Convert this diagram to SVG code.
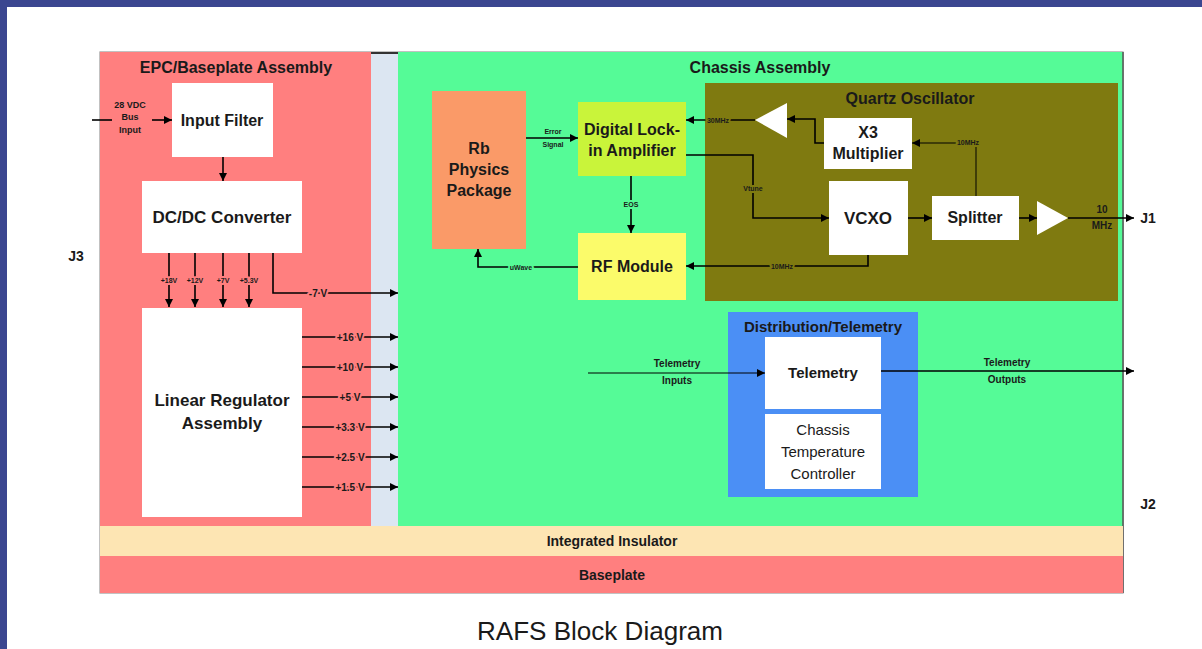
<svg xmlns="http://www.w3.org/2000/svg" width="1202" height="649" viewBox="0 0 1202 649">
<defs>
<marker id="ah" viewBox="0 0 10 10" refX="10" refY="5" markerWidth="8" markerHeight="8" markerUnits="userSpaceOnUse" orient="auto">
<path d="M0,0 L10,5 L0,10 Z" fill="#000"/>
</marker>
</defs>
<style>
text{font-family:"Liberation Sans",Arial,sans-serif;fill:#1a1a1a;text-anchor:middle}
.t{font-weight:bold;font-size:16px}
.n{font-weight:bold;font-size:16px}
.s{font-weight:bold;font-size:14px}
.lb{font-size:7px;font-weight:bold;paint-order:stroke;stroke-width:4px;stroke-linejoin:round}
.v{font-size:10px;font-weight:bold;paint-order:stroke;stroke-width:4px;stroke-linejoin:round}
.onred{stroke:#ff7f7f}
.ongreen{stroke:#55fb97}
.onolive{stroke:#7f7a10}
.box{fill:#fff}
.c{fill:none;stroke:#000;stroke-width:1.6}
.ca{fill:none;stroke:#000;stroke-width:1.6;marker-end:url(#ah)}
.thin{stroke-width:1}
</style>
<rect width="1202" height="649" fill="#fff"/>
<rect x="0" y="0" width="1202" height="7" fill="#3b4690"/>
<rect x="0" y="0" width="7" height="649" fill="#3b4690"/>

<g id="background">
<rect x="100" y="52" width="1023" height="541" fill="none" stroke="#999" stroke-width="1.2"/>
<rect x="100" y="52" width="271" height="474" fill="#ff7f7f"/>
<rect x="371" y="52" width="27" height="474" fill="#dce6f2"/>
<line x1="371" y1="53" x2="398" y2="53" stroke="#333" stroke-width="2"/>
<rect x="398" y="52" width="725" height="474" fill="#55fb97"/>
<line x1="1123" y1="52" x2="1123" y2="593" stroke="#555" stroke-width="1.5"/>
<rect x="100" y="526" width="1023" height="30" fill="#fde5b3"/>
<rect x="100" y="556" width="1023" height="37" fill="#ff7f7f"/>
<text class="t" x="236" y="73">EPC/Baseplate Assembly</text>
<text class="t" x="760" y="73">Chassis Assembly</text>
<text class="s" x="612" y="546">Integrated Insulator</text>
<text class="s" x="612" y="580">Baseplate</text>
<text class="s" x="76" y="261">J3</text>
<text class="s" x="1148" y="223">J1</text>
<text class="s" x="1148" y="509">J2</text>
<text x="600" y="640" style="font-size:26px" textLength="246" lengthAdjust="spacingAndGlyphs">RAFS Block Diagram</text>
</g>

<g id="input-filter">
<rect class="box" x="172" y="83" width="101" height="74"/>
<text class="n" x="222" y="126">Input Filter</text>
</g>
<g id="dcdc-converter">
<rect class="box" x="142" y="181" width="160" height="72"/>
<text class="t" x="222" y="223" style="font-size:17px">DC/DC Converter</text>
</g>
<g id="linear-regulator">
<rect class="box" x="142" y="308" width="160" height="209"/>
<text class="t" x="222" y="406" style="font-size:17px">Linear Regulator</text>
<text class="t" x="222" y="429" style="font-size:17px">Assembly</text>
</g>
<g id="rb-physics">
<rect x="432" y="91" width="94" height="158" fill="#fa9a68"/>
<text class="t" x="479" y="154">Rb</text>
<text class="t" x="479" y="175">Physics</text>
<text class="t" x="479" y="196">Package</text>
</g>
<g id="lock-in-amp">
<rect x="578" y="102" width="108" height="74" fill="#c9f43a"/>
<text class="t" x="632" y="135">Digital Lock-</text>
<text class="t" x="632" y="156">in Amplifier</text>
</g>
<g id="rf-module">
<rect x="578" y="233" width="108" height="67" fill="#fbfb6a"/>
<text class="t" x="632" y="272">RF Module</text>
</g>
<g id="quartz-oscillator">
<rect x="705" y="83" width="413" height="218" fill="#7f7a10"/>
<text class="t" x="910" y="104">Quartz Oscillator</text>
<polygon points="755,120 787,103 787,138" fill="#fff"/>
<polygon points="1037,201 1037,235 1068,218" fill="#fff"/>
</g>
<g id="x3-multiplier">
<rect class="box" x="824" y="118" width="88" height="51"/>
<text class="t" x="868" y="138">X3</text>
<text class="t" x="868" y="159">Multiplier</text>
</g>
<g id="vcxo">
<rect class="box" x="829" y="181" width="79" height="74"/>
<text class="t" x="868" y="224" style="font-size:17px">VCXO</text>
</g>
<g id="splitter">
<rect class="box" x="932" y="196" width="87" height="44"/>
<text class="t" x="975" y="223">Splitter</text>
</g>
<g id="distribution-telemetry">
<rect x="728" y="312" width="190" height="185" fill="#4b8ff5"/>
<text class="s" x="823" y="332" style="font-size:15px">Distribution/Telemetry</text>
</g>
<g id="telemetry">
<rect class="box" x="765" y="337" width="116" height="72"/>
<text x="823" y="378" style="font-size:15px;font-weight:bold">Telemetry</text>
</g>
<g id="chassis-temp-controller">
<rect class="box" x="765" y="414" width="116" height="75"/>
<text x="823" y="435" style="font-size:15px">Chassis</text>
<text x="823" y="457" style="font-size:15px">Temperature</text>
<text x="823" y="479" style="font-size:15px">Controller</text>
</g>

<g id="connectors">
<path class="c" d="M92,120 H112"/>
<path class="ca" d="M152,120 H172"/>
<path class="ca" d="M223,157 V181"/>
<path class="ca" d="M169,253 V307"/>
<path class="ca" d="M195,253 V307"/>
<path class="ca" d="M223,253 V307"/>
<path class="ca" d="M249,253 V307"/>
<path class="ca" d="M273,253 V293 H398"/>
<path class="ca" d="M302,337 H398"/>
<path class="ca" d="M302,367 H398"/>
<path class="ca" d="M302,397 H398"/>
<path class="ca" d="M302,427 H398"/>
<path class="ca" d="M302,457 H398"/>
<path class="ca" d="M302,487 H398"/>
<path class="ca" d="M526,138 H578"/>
<path class="ca" d="M631,176 V233"/>
<path class="ca" d="M578,267 H478 V249"/>
<path class="ca" d="M755,120 H686"/>
<path class="ca" d="M824,143 H815 V119 H787"/>
<path class="ca thin" d="M976,196 V143 H912"/>
<path class="ca" d="M686,155 H753 V218 H829"/>
<path class="ca" d="M868,255 V266 H686"/>
<path class="ca" d="M908,218 H932"/>
<path class="ca" d="M1019,218 H1037"/>
<path class="ca" d="M1068,218 H1134"/>
<path class="ca thin" d="M588,373 H765"/>
<path class="ca" d="M881,371 H1134"/>
</g>

<g id="labels">
<text x="130" y="108" style="font-size:9px;font-weight:bold">28 VDC</text>
<text x="130" y="120" style="font-size:9px;font-weight:bold">Bus</text>
<text x="130" y="133" style="font-size:9px;font-weight:bold">Input</text>
<text class="lb onred" x="169" y="283">+18V</text>
<text class="lb onred" x="195" y="283">+12V</text>
<text class="lb onred" x="223" y="283">+7V</text>
<text class="lb onred" x="249" y="283">+5.3V</text>
<text class="v onred" x="318" y="297">-7 V</text>
<text class="v onred" x="350" y="341">+16 V</text>
<text class="v onred" x="350" y="371">+10 V</text>
<text class="v onred" x="350" y="401">+5 V</text>
<text class="v onred" x="350" y="431">+3.3 V</text>
<text class="v onred" x="350" y="461">+2.5 V</text>
<text class="v onred" x="350" y="491">+1.5 V</text>
<text class="lb ongreen" x="553" y="134">Error</text>
<text class="lb ongreen" x="553" y="147">Signal</text>
<text class="lb ongreen" x="631" y="207">EOS</text>
<text class="lb ongreen" x="521" y="270">uWave</text>
<text class="lb onolive" x="718" y="123">30MHz</text>
<text class="lb onolive" x="968" y="145">10MHz</text>
<text class="lb onolive" x="753" y="191">Vtune</text>
<text class="lb onolive" x="782" y="269">10MHz</text>
<text x="1102" y="213" style="font-size:10px;font-weight:bold;paint-order:stroke;stroke:#7f7a10;stroke-width:3px">10</text>
<text x="1102" y="229" style="font-size:10px;font-weight:bold;paint-order:stroke;stroke:#7f7a10;stroke-width:3px">MHz</text>
<text x="677" y="367" style="font-size:10px;font-weight:bold;paint-order:stroke;stroke:#55fb97;stroke-width:4px">Telemetry</text>
<text x="677" y="384" style="font-size:10px;font-weight:bold;paint-order:stroke;stroke:#55fb97;stroke-width:4px">Inputs</text>
<text x="1007" y="366" style="font-size:10px;font-weight:bold;paint-order:stroke;stroke:#55fb97;stroke-width:4px">Telemetry</text>
<text x="1007" y="383" style="font-size:10px;font-weight:bold;paint-order:stroke;stroke:#55fb97;stroke-width:4px">Outputs</text>
</g>
</svg>
